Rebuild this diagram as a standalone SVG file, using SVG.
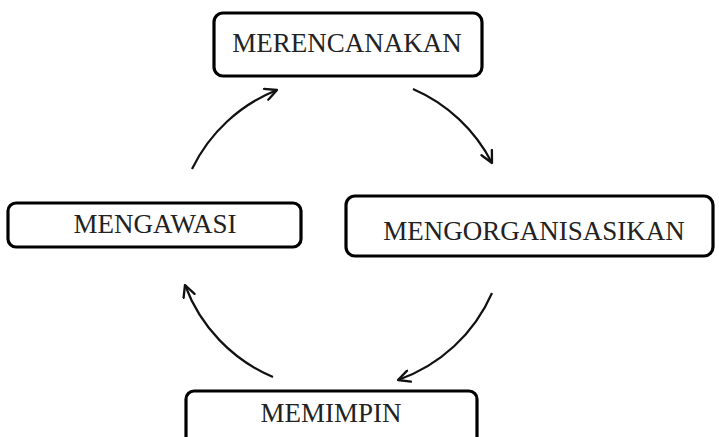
<svg xmlns="http://www.w3.org/2000/svg" width="719" height="437" viewBox="0 0 719 437">
<style>
.box{fill:#fff;stroke:#000;stroke-width:3.2}
.lbl{font-family:"Liberation Serif","Times New Roman",serif;font-size:27px;fill:#222;text-anchor:middle}
.arc{fill:none;stroke:#111;stroke-width:2.2}
</style>
<defs>
<marker id="ah" viewBox="0 0 12 12" refX="11" refY="6" markerWidth="14" markerHeight="14" markerUnits="userSpaceOnUse" orient="auto">
<path d="M1,1 L11,6 L1,11" fill="none" stroke="#111" stroke-width="2" stroke-linecap="round" stroke-linejoin="round"/>
</marker>
</defs>
<rect width="719" height="437" fill="#fff"/>
<g id="connectors">
<path class="arc" d="M192,169 A160,160 0 0 1 277,90" marker-end="url(#ah)"/>
<path class="arc" d="M413,89 A160,160 0 0 1 492,163" marker-end="url(#ah)"/>
<path class="arc" d="M492,293 A160,160 0 0 1 398,380" marker-end="url(#ah)"/>
<path class="arc" d="M273,377 A160,160 0 0 1 185,285" marker-end="url(#ah)"/>
</g>
<g id="merencanakan">
<rect class="box" x="214" y="13" width="268" height="63" rx="9"/>
<text class="lbl" x="347" y="52">MERENCANAKAN</text>
</g>
<g id="mengawasi">
<rect class="box" x="8" y="203" width="293" height="44" rx="8"/>
<text class="lbl" x="155" y="233">MENGAWASI</text>
</g>
<g id="mengorganisasikan">
<rect class="box" x="346" y="196" width="367" height="60" rx="9"/>
<text class="lbl" x="534" y="240">MENGORGANISASIKAN</text>
</g>
<g id="memimpin">
<rect class="box" x="186" y="391" width="291" height="60" rx="8"/>
<text class="lbl" x="331" y="422">MEMIMPIN</text>
</g>
</svg>
